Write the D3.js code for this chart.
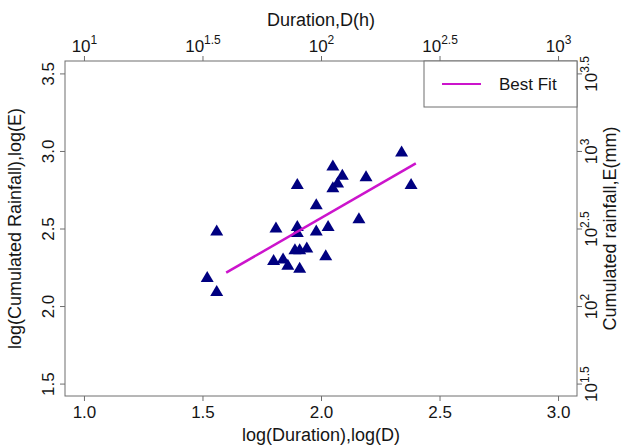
<!DOCTYPE html>
<html>
<head>
<meta charset="utf-8">
<script src="https://cdn.jsdelivr.net/npm/d3@7"></script>
<style>
  html, body { margin: 0; padding: 0; background: #fff; }
  svg { display: block; font-family: "Liberation Sans", Arial, sans-serif; }
</style>
</head>
<body>
<svg id="chart" width="629" height="447"></svg>
<script>
// log10 of event duration (h) and cumulated rainfall (mm)
const logD = [2.34, 2.05, 2.09, 2.19, 1.90, 2.07, 2.05, 2.38, 1.98, 2.16,
              1.56, 1.81, 1.90, 1.90, 2.03, 1.98, 1.89, 1.91, 1.94, 1.80,
              1.84, 1.86, 1.91, 2.02, 1.52, 1.56];
const logE = [3.00, 2.91, 2.85, 2.84, 2.79, 2.80, 2.77, 2.79, 2.66, 2.57,
              2.49, 2.51, 2.52, 2.48, 2.52, 2.49, 2.37, 2.37, 2.38, 2.30,
              2.31, 2.27, 2.25, 2.33, 2.19, 2.10];

// best-fit line end points
const fitX = [1.60, 2.40];
const fitY = [2.215, 2.92];

// tick values
const xTicks = [1.0, 1.5, 2.0, 2.5, 3.0];
const yTicks = [1.5, 2.0, 2.5, 3.0, 3.5];
const xTickLabels = ["1.0", "1.5", "2.0", "2.5", "3.0"];
const yTickLabels = ["1.5", "2.0", "2.5", "3.0", "3.5"];
const topExp = ["1", "1.5", "2", "2.5", "3"];
const rightExp = ["1.5", "2", "2.5", "3", "3.5"];

const legendLabel = "Best Fit";

const W = 629, H = 447;
const plot = { left: 65, right: 577, top: 61, bottom: 396 };

const svg = d3.select("#chart");

const x = d3.scaleLinear().domain([0.92, 3.08]).range([plot.left, plot.right]);
const y = d3.scaleLinear().domain([1.42, 3.58]).range([plot.bottom, plot.top]);

const axisColor = "#6e6e6e";
const textColor = "#151515";

function styleAxis(g) {
  g.select(".domain").remove();
  g.selectAll(".tick line").attr("stroke", axisColor).attr("stroke-width", 1);
  g.selectAll(".tick text").attr("fill", textColor);
}

// bottom axis
const gBottom = svg.append("g")
  .attr("transform", `translate(0,${plot.bottom})`)
  .call(d3.axisBottom(x).tickValues(xTicks).tickSize(5).tickFormat((d, i) => xTickLabels[i]))
  .call(styleAxis);
gBottom.selectAll(".tick text").attr("font-size", 17).attr("y", 22).attr("dy", 0);

// left axis, labels rotated
const gLeft = svg.append("g")
  .attr("transform", `translate(${plot.left},0)`)
  .call(d3.axisLeft(y).tickValues(yTicks).tickSize(5).tickFormat((d, i) => yTickLabels[i]))
  .call(styleAxis);
gLeft.selectAll(".tick text")
  .attr("font-size", 17)
  .attr("text-anchor", "middle")
  .attr("transform", "rotate(-90)")
  .attr("x", 0).attr("y", -11).attr("dy", 0);

// top axis: powers of ten
const gTop = svg.append("g")
  .attr("transform", `translate(0,${plot.top})`)
  .call(d3.axisTop(x).tickValues(xTicks).tickSize(5).tickFormat(() => ""))
  .call(styleAxis);
gTop.selectAll(".tick text")
  .attr("font-size", 17).attr("text-anchor", "middle")
  .attr("y", -9).attr("dy", 0)
  .each(function (d, i) {
    const t = d3.select(this);
    t.append("tspan").text("10");
    t.append("tspan").attr("font-size", 12).attr("dy", -8).text(topExp[i]);
  });

// right axis: powers of ten, rotated
const gRight = svg.append("g")
  .attr("transform", `translate(${plot.right},0)`)
  .call(d3.axisRight(y).tickValues(yTicks).tickSize(5).tickFormat(() => ""))
  .call(styleAxis);
gRight.selectAll(".tick text")
  .attr("font-size", 17).attr("text-anchor", "middle")
  .attr("transform", "rotate(-90)")
  .attr("x", 0).attr("y", 20).attr("dy", 0)
  .each(function (d, i) {
    const t = d3.select(this);
    t.append("tspan").text("10");
    t.append("tspan").attr("font-size", 12).attr("dy", -8).text(rightExp[i]);
  });

// plot frame
svg.append("rect")
  .attr("x", plot.left).attr("y", plot.top)
  .attr("width", plot.right - plot.left).attr("height", plot.bottom - plot.top)
  .attr("fill", "none").attr("stroke", axisColor).attr("stroke-width", 1);

// axis titles
const midX = (plot.left + plot.right) / 2;
const midY = (plot.top + plot.bottom) / 2;
svg.append("text").attr("x", midX).attr("y", 441).attr("text-anchor", "middle")
  .attr("font-size", 18).attr("fill", textColor).text("log(Duration),log(D)");
svg.append("text").attr("x", midX).attr("y", 26).attr("text-anchor", "middle")
  .attr("font-size", 18).attr("fill", textColor).text("Duration,D(h)");
svg.append("text").attr("transform", `translate(21,${midY}) rotate(-90)`)
  .attr("text-anchor", "middle").attr("font-size", 18).attr("fill", textColor)
  .text("log(Cumulated Rainfall),log(E)");
svg.append("text").attr("transform", `translate(616,${midY}) rotate(-90)`)
  .attr("text-anchor", "middle").attr("font-size", 18).attr("fill", textColor)
  .text("Cumulated rainfall,E(mm)");

// data points as upward triangles
const tw = 13, th = 11;
const tri = `M0,${-th / 2}L${tw / 2},${th / 2}L${-tw / 2},${th / 2}Z`;
svg.append("g").selectAll("path")
  .data(logD.map((d, i) => [d, logE[i]]))
  .join("path")
  .attr("d", tri)
  .attr("transform", d => `translate(${x(d[0])},${y(d[1])})`)
  .attr("fill", "#000080");

// best-fit line
svg.append("path")
  .datum(fitX.map((d, i) => [d, fitY[i]]))
  .attr("d", d3.line().x(d => x(d[0])).y(d => y(d[1])))
  .attr("stroke", "#cc14cc").attr("stroke-width", 2.5).attr("fill", "none");

// legend
const lg = svg.append("g");
lg.append("rect")
  .attr("x", 424).attr("y", plot.top)
  .attr("width", plot.right - 424).attr("height", 46)
  .attr("fill", "#fff").attr("stroke", axisColor).attr("stroke-width", 1);
lg.append("line").attr("x1", 442).attr("x2", 481).attr("y1", 84).attr("y2", 84)
  .attr("stroke", "#cc14cc").attr("stroke-width", 2);
lg.append("text").attr("x", 499).attr("y", 90).attr("font-size", 17)
  .attr("fill", textColor).text(legendLabel);
</script>
</body>
</html>
